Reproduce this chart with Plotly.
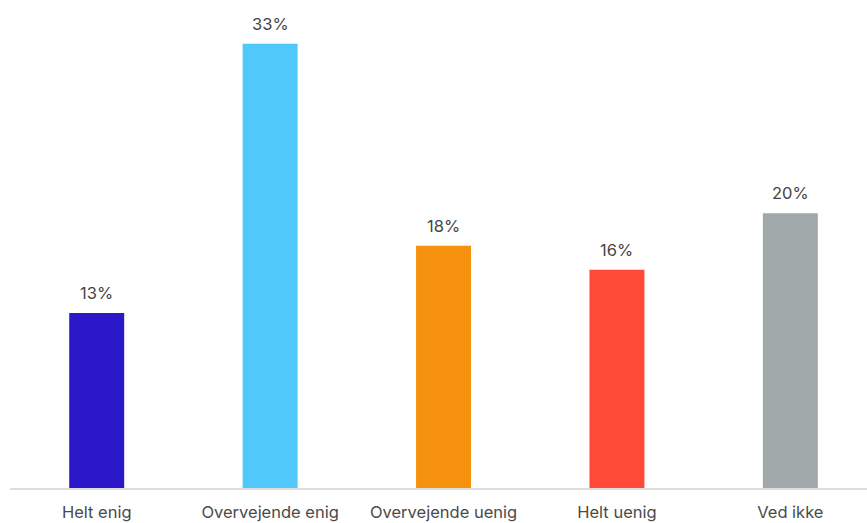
import plotly.graph_objects as go

categories = ["Helt enig", "Overvejende enig", "Overvejende uenig", "Helt uenig", "Ved ikke"]
values = [13, 33, 18, 16.2, 20.4]
labels = ["13%", "33%", "18%", "16%", "20%"]
colors = ["#2B18C8", "#50C9FA", "#F7920F", "#FF4A38", "#A0A8AA"]

fig = go.Figure()
fig.add_trace(go.Bar(
    x=categories, y=values,
    marker=dict(color=colors, line=dict(width=0)),
    width=0.317,
    hoverinfo="skip",
))

for c, v, t in zip(categories, values, labels):
    fig.add_annotation(x=c, y=v, text=t, showarrow=False, yanchor="bottom",
                       yshift=8, font=dict(family="Inter", size=16.5, color="#444444"))

fig.update_layout(
    width=867, height=523,
    margin=dict(l=10, r=0, t=3, b=35),
    paper_bgcolor="white", plot_bgcolor="white",
    showlegend=False,
    xaxis=dict(
        range=[-0.5, 4.442],
        showline=True, linecolor="#DCDCDC", linewidth=2,
        showgrid=False, zeroline=False,
        ticks="outside", ticklen=8, tickcolor="rgba(0,0,0,0)",
        tickfont=dict(family="Inter", size=16.5, color="#4A4A4A"),
        automargin=False,
    ),
    yaxis=dict(
        range=[0, 36.02], visible=False, showgrid=False, zeroline=False,
    ),
)

fig.write_html(
    "out.html",
    config={"displayModeBar": False},
    post_script="document.body.style.margin='0';document.body.style.overflow='hidden';",
)
